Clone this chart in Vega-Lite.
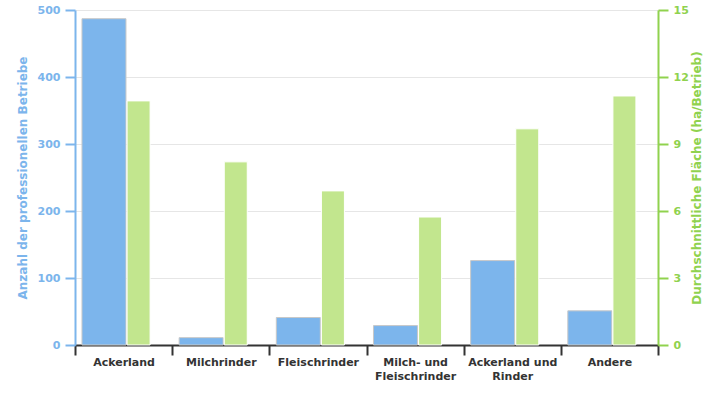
{
  "$schema": "https://vega.github.io/schema/vega-lite/v6.json",
  "width": 583,
  "height": 335,
  "autosize": {"type": "none"},
  "padding": {"left": 75, "top": 10, "right": 67, "bottom": 55},
  "config": {"font": "DejaVu Sans", "view": {"stroke": null}},
  "data": {
    "values": [
      {"Kategorie": "Ackerland", "Betriebe": 487, "Flaeche": 10.93},
      {"Kategorie": "Milchrinder", "Betriebe": 11, "Flaeche": 8.2},
      {"Kategorie": "Fleischrinder", "Betriebe": 41, "Flaeche": 6.9},
      {"Kategorie": "Milch- und Fleischrinder", "Betriebe": 29, "Flaeche": 5.73},
      {"Kategorie": "Ackerland und Rinder", "Betriebe": 126, "Flaeche": 9.68},
      {"Kategorie": "Andere", "Betriebe": 51, "Flaeche": 11.15}
    ]
  },
  "encoding": {
    "x": {
      "field": "Kategorie",
      "type": "nominal",
      "sort": null,
      "scale": {"paddingInner": 0, "paddingOuter": 0},
      "axis": {
        "title": null,
        "labelAngle": 0,
        "labelFont": "DejaVu Sans",
        "labelFontWeight": "bold",
        "labelFontSize": 11,
        "labelColor": "#333333",
        "labelPadding": 1,
        "labelLineHeight": 14,
        "labelBaseline": "top",
        "labelExpr": "datum.value == 'Milch- und Fleischrinder' ? ['Milch- und', 'Fleischrinder'] : datum.value == 'Ackerland und Rinder' ? ['Ackerland und', 'Rinder'] : datum.value",
        "tickBand": "extent",
        "tickSize": 10,
        "tickWidth": 2,
        "tickColor": "#333333",
        "domainColor": "#333333",
        "domainWidth": 2,
        "grid": false
      }
    }
  },
  "layer": [
    {
      "mark": {"type": "bar", "width": 44, "xOffset": -19.6, "color": "#7cb5ec", "stroke": "#c8c8c8", "strokeWidth": 1},
      "encoding": {
        "y": {
          "field": "Betriebe",
          "type": "quantitative",
          "scale": {"domain": [0, 500]},
          "axis": {
            "title": "Anzahl der professionellen Betriebe",
            "titleColor": "#7cb5ec",
            "titleFontSize": 12,
            "titleFontWeight": "bold",
            "titlePadding": 8,
            "values": [0, 100, 200, 300, 400, 500],
            "labelColor": "#7cb5ec",
            "labelFontWeight": "bold",
            "labelFontSize": 11,
            "labelPadding": 5,
            "tickColor": "#7cb5ec",
            "tickSize": 10,
            "tickWidth": 2,
            "domainColor": "#7cb5ec",
            "domainWidth": 2,
            "grid": true,
            "gridColor": "#e6e6e6",
            "gridWidth": 1
          }
        }
      }
    },
    {
      "mark": {"type": "bar", "width": 23, "xOffset": 15, "color": "#c2e68e", "stroke": "white", "strokeWidth": 1},
      "encoding": {
        "y": {
          "field": "Flaeche",
          "type": "quantitative",
          "scale": {"domain": [0, 15]},
          "axis": {
            "orient": "right",
            "title": "Durchschnittliche Fläche (ha/Betrieb)",
            "titleColor": "#90d24e",
            "titleFontSize": 12,
            "titleFontWeight": "bold",
            "titleAngle": -90,
            "titleBaseline": "middle",
            "titleAlign": "center",
            "titleX": 38,
            "titleY": 167.5,
            "values": [0, 3, 6, 9, 12, 15],
            "labelColor": "#90d24e",
            "labelFontWeight": "bold",
            "labelFontSize": 11,
            "labelPadding": 5,
            "tickColor": "#90d24e",
            "tickSize": 10,
            "tickWidth": 2,
            "domainColor": "#90d24e",
            "domainWidth": 2,
            "grid": false
          }
        }
      }
    }
  ],
  "resolve": {"scale": {"y": "independent"}}
}
